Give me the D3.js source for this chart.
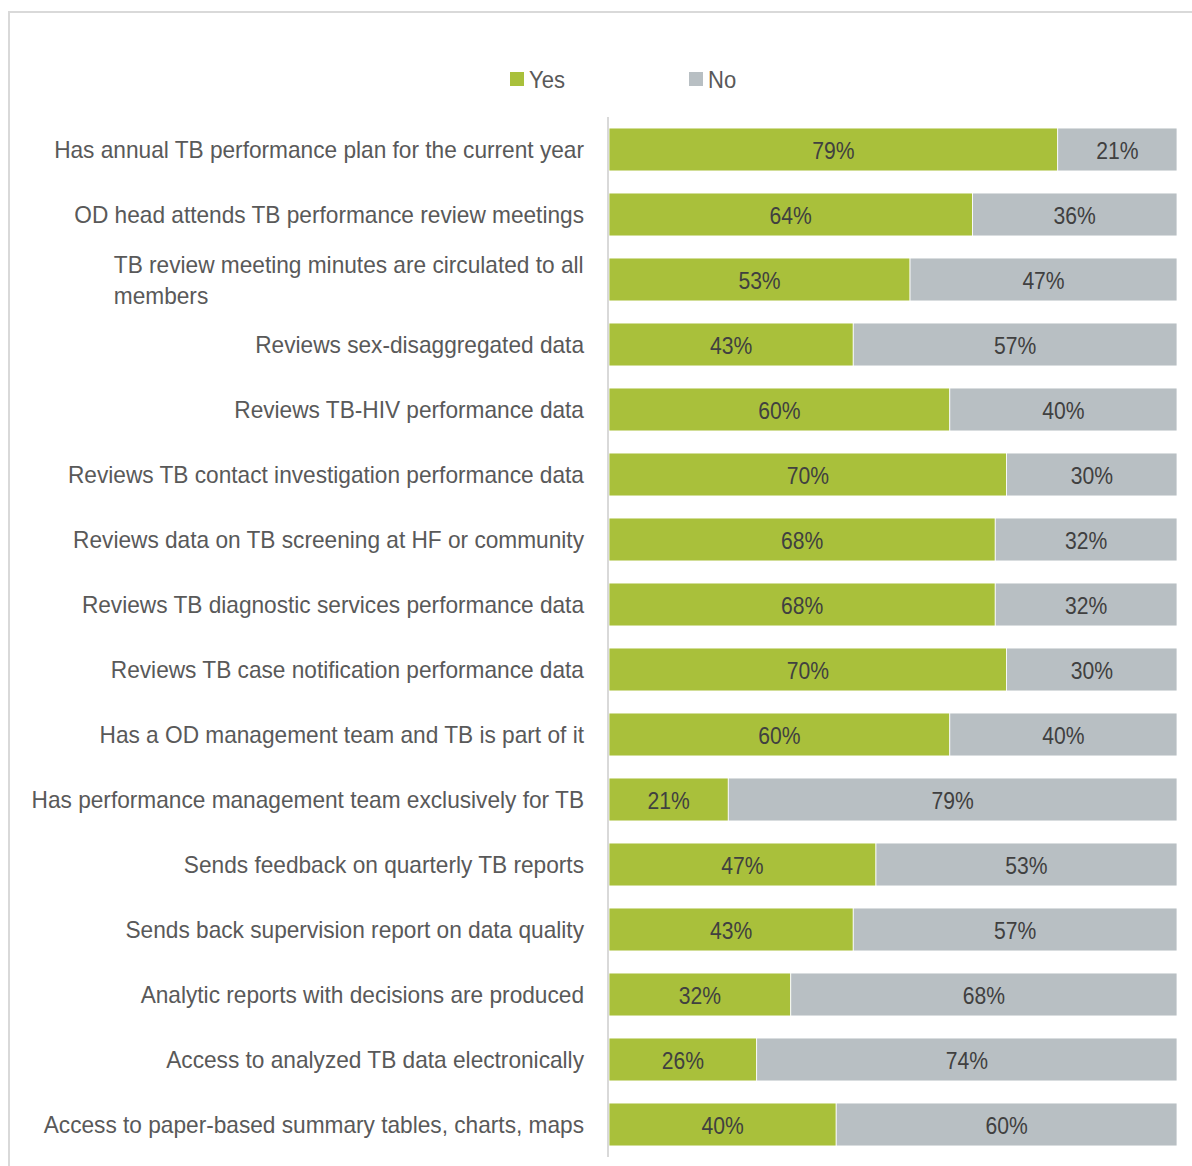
<!DOCTYPE html>
<html>
<head>
<meta charset="utf-8">
<script src="https://cdn.jsdelivr.net/npm/d3@7"></script>
<style>
  html, body { margin: 0; padding: 0; background: #fff; }
  svg { display: block; }
  text { font-family: "Liberation Sans Narrow", "Arial Narrow", "Liberation Sans", sans-serif; }
</style>
</head>
<body>
<svg id="chart" width="1192" height="1166"></svg>
<script>
// Survey items (top to bottom)
const categories = [
  "Has annual TB performance plan for the current year",
  "OD head attends TB performance review meetings",
  "TB review meeting minutes are circulated to all members",
  "Reviews sex-disaggregated data",
  "Reviews TB-HIV performance data",
  "Reviews TB contact investigation performance data",
  "Reviews data on TB screening at HF or community",
  "Reviews TB diagnostic services performance data",
  "Reviews TB case notification performance data",
  "Has a OD management team and TB is part of it",
  "Has performance management team exclusively for TB",
  "Sends feedback on quarterly TB reports",
  "Sends back supervision report on data quality",
  "Analytic reports with decisions are produced",
  "Access to analyzed TB data electronically",
  "Access to paper-based summary tables, charts, maps"
];
const yesValues = [79, 64, 53, 43, 60, 70, 68, 68, 70, 60, 21, 47, 43, 32, 26, 40];
const noValues  = [21, 36, 47, 57, 40, 30, 32, 32, 30, 40, 79, 53, 57, 68, 74, 60];
const seriesNames = ["Yes", "No"];
const seriesColors = ["#a9c03b", "#b8bfc3"];

// Line breaks for long labels
const wrapLabels = {
  "TB review meeting minutes are circulated to all members":
    ["TB review meeting minutes are circulated to all", "members"]
};

// Horizontal squeeze so the sans face reads like a condensed face
function condense(sel, f, ax) {
  sel.each(function () {
    const node = d3.select(this);
    const a = ax != null ? ax : +node.attr("x");
    node.attr("transform", `translate(${a},0) scale(${f},1) translate(${-a},0)`);
  });
}

const svg = d3.select("#chart");

// Outer frame
svg.append("rect")
  .attr("x", 9).attr("y", 12)
  .attr("width", 1200).attr("height", 1200)
  .attr("fill", "none")
  .attr("stroke", "#d9d9d9")
  .attr("stroke-width", 2);

const plot = { left: 609, right: 1177, top: 117, bottom: 1157 };

const x = d3.scaleLinear().domain([0, 100]).range([plot.left, plot.right]);
const y = d3.scaleBand().domain(categories).range([plot.top, plot.bottom]).paddingInner(0.34).paddingOuter(0.17);

const rows = categories.map((c, i) => ({ cat: c, Yes: yesValues[i], No: noValues[i] }));
const stacked = d3.stack().keys(seriesNames)(rows);

// Bars
const layers = svg.append("g").selectAll("g")
  .data(stacked).join("g")
  .attr("fill", (d, i) => seriesColors[i]);

layers.selectAll("rect")
  .data(d => d)
  .join("rect")
  .attr("x", d => x(d[0]))
  .attr("width", d => x(d[1]) - x(d[0]))
  .attr("y", d => y(d.data.cat))
  .attr("height", y.bandwidth())
  .attr("stroke", "#ffffff")
  .attr("stroke-width", 0.8);

// Value labels
layers.selectAll("text")
  .data(d => d)
  .join("text")
  .attr("x", d => (x(d[0]) + x(d[1])) / 2)
  .attr("y", d => y(d.data.cat) + y.bandwidth() / 2)
  .attr("dy", "0.38em")
  .attr("text-anchor", "middle")
  .attr("fill", "#404040")
  .attr("font-size", 24)
  .text(d => Math.round(d[1] - d[0]) + "%")
  .call(condense, 0.88);

// Category axis
const yAxis = svg.append("g")
  .attr("transform", `translate(${plot.left - 1},0)`)
  .call(d3.axisLeft(y).tickSize(0).tickPadding(0).tickFormat(""));
yAxis.select(".domain").attr("stroke", "#d9d9d9").attr("stroke-width", 2)
  .attr("d", `M0,${plot.top}V${plot.bottom}`);

const labelRight = 584;
const labelSqueeze = 0.945;
const labels = svg.append("g");
categories.forEach(c => {
  const cy = y(c) + y.bandwidth() / 2;
  const lines = wrapLabels[c];
  if (!lines) {
    labels.append("text")
      .attr("x", labelRight).attr("y", cy).attr("dy", "0.36em")
      .attr("text-anchor", "end")
      .attr("fill", "#595959").attr("font-size", 24)
      .text(c)
      .call(condense, labelSqueeze);
  } else {
    const lh = 31;
    const t = labels.append("text")
      .attr("fill", "#595959").attr("font-size", 24);
    lines.forEach((ln, k) => {
      t.append("tspan")
        .attr("y", cy - lh * (lines.length - 1) / 2 + lh * k)
        .attr("dy", "0.36em")
        .text(ln);
    });
    const w = t.select("tspan").node().getComputedTextLength() * labelSqueeze;
    const left = labelRight - w;
    t.selectAll("tspan").attr("x", left);
    condense(t, labelSqueeze, left);
  }
});

// Legend
const legendX = [510, 689];
const legend = svg.append("g");
seriesNames.forEach((s, i) => {
  legend.append("rect")
    .attr("x", legendX[i]).attr("y", 72)
    .attr("width", 14).attr("height", 14)
    .attr("fill", seriesColors[i]);
  legend.append("text")
    .attr("x", legendX[i] + 19).attr("y", 79).attr("dy", "0.36em")
    .attr("fill", "#595959").attr("font-size", 24)
    .text(s)
    .call(condense, 0.92);
});
</script>
</body>
</html>
